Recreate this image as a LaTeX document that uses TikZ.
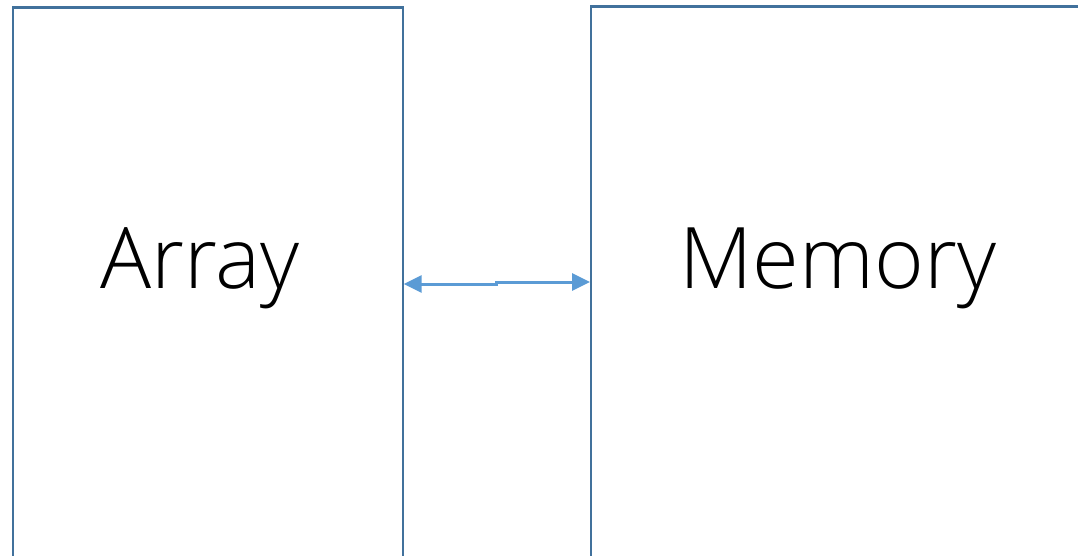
\documentclass[tikz,border=0pt]{standalone}
\usepackage{fontspec}
\setmainfont{Open Sans Light}
\usetikzlibrary{arrows.meta}
\definecolor{boxline}{HTML}{41719C}
\definecolor{linkline}{HTML}{5B9BD5}
\begin{document}
\begin{tikzpicture}[x=1pt,y=1pt,
  unitbox/.style={draw=boxline, line width=2.2pt, rectangle, inner sep=0pt, anchor=north west},
  label/.style={font=\fontsize{85}{92}\selectfont, text=black, inner sep=0pt},
  link/.style={draw=linkline, line width=3pt, {Triangle[length=18pt,width=17pt]}-{Triangle[length=18pt,width=17pt]}}]
  \useasboundingbox (0,0) rectangle (1078,555);
  \clip (0,0) rectangle (1078,555);
  % the two units, both running past the lower edge
  \node[unitbox, minimum width=390pt, minimum height=700pt] (array) at (11.5,548.5) {};
  \node[unitbox, minimum width=600pt, minimum height=700pt] (memory) at (590,549.5) {};
  \node[label] (arraytxt) at (200,287) {Array};
  \node[label] (memorytxt) at (838,287) {Memory};
  % bidirectional link with its small jog in the middle
  \coordinate (jogA) at (496,271);
  \coordinate (jogB) at (496,273);
  \draw[link] (array.east |- jogA) -- (jogA) -- (jogB) -- (memory.west |- jogB);
\end{tikzpicture}
\end{document}
